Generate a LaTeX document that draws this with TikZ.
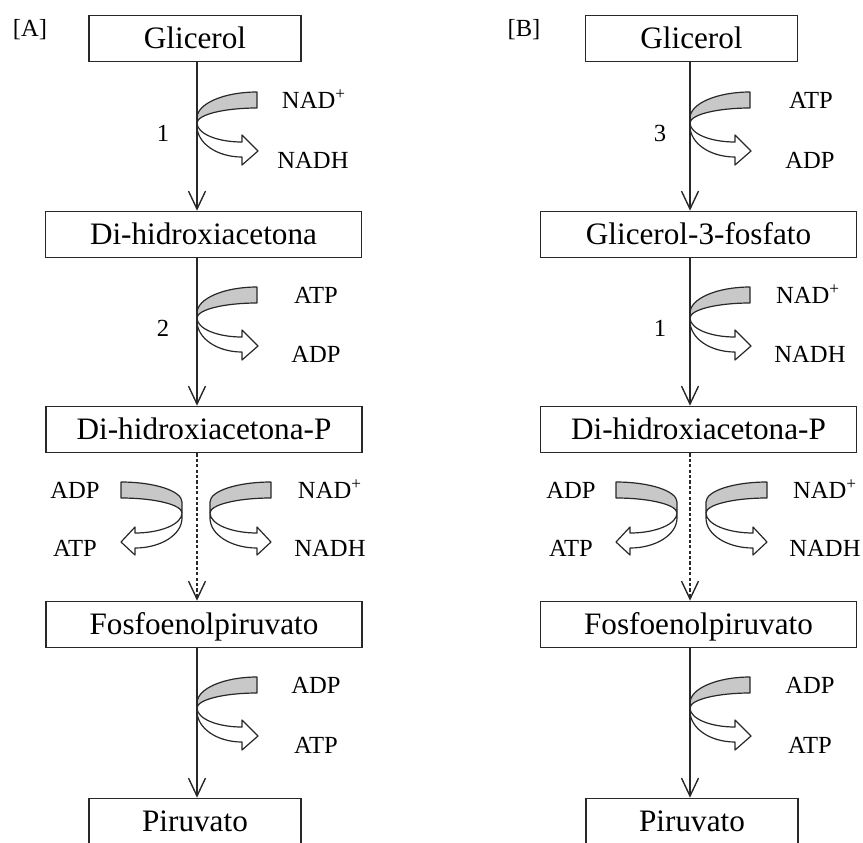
\documentclass[tikz,border=0pt]{standalone}
\usepackage{fontspec}
\setmainfont{Liberation Serif}
\usetikzlibrary{arrows.meta}
\definecolor{ink}{RGB}{40,40,40}
\definecolor{band}{RGB}{200,200,200}

\begin{document}
\begin{tikzpicture}[x=0.5pt,y=-0.5pt,
  stepbox/.style={draw=ink, line width=0.8pt, fill=white, inner sep=0pt,
    font=\fontsize{15.6}{18}\selectfont, text height=10.3pt, text depth=0pt,
    minimum height=23pt},
  smallbox/.style={stepbox, minimum width=106pt},
  widebox/.style={stepbox, minimum width=158pt},
  lbl/.style={inner sep=0pt, font=\fontsize{12.3}{14}\selectfont,
    text height=8.1pt, text depth=0pt},
  conn/.style={draw=ink, line width=0.7pt, -{Straight Barb[length=9pt,width=8.5pt]}},
  dconn/.style={conn, dash pattern=on 1.6pt off 1.1pt},
  grayband/.style={draw=ink, line width=0.6pt, fill=band, line join=round},
  whitearrow/.style={draw=ink, line width=0.6pt, fill=white, line join=round},
  % cofactor pair sitting on a reaction line (origin = top of the meeting point)
  pics/cofon/.style={code={
    \path[grayband] (0,0) .. controls (0,-14.4) and (26.9,-26) .. (60,-26)
      -- (60,-10) .. controls (26.9,-10) and (0,-3.3) .. (0,5) -- cycle;
    \path[whitearrow] (0,5) .. controls (0,15.5) and (19.8,24) .. (45,24)
      -- (45,17) -- (61,33) -- (45,47) -- (45,39)
      .. controls (19.8,39) and (0,25.1) .. (0,8) -- cycle;
  }},
  % cofactor pair standing beside a reaction line
  pics/cofside/.style={code={
    \path[grayband] (0,0) .. controls (0,-11) and (27.3,-20) .. (61,-20)
      -- (61,-4) .. controls (27.3,-4) and (0,2.7) .. (0,11) -- cycle;
    \path[whitearrow] (0,11) .. controls (0,22) and (21,31) .. (47,31)
      -- (47,25) -- (61,40) -- (47,53) -- (47,46)
      .. controls (21,46) and (0,32.6) .. (0,16) -- cycle;
  }}
]
\useasboundingbox (0,0) rectangle (863,842);

% column axes
\coordinate (xA) at (197,0);
\coordinate (xB) at (690,0);

% pathway A
\node[lbl] (tagA) at (30,28) {[A]};
\node[smallbox] (gliA)  at (195,38.5)  {Glicerol};
\node[widebox]  (dhaA)  at (203.5,234.5) {Di-hidroxiacetona};
\node[widebox]  (dhapA) at (204,429.5) {Di-hidroxiacetona-P};
\node[widebox]  (pepA)  at (204,624.5) {Fosfoenolpiruvato};
\node[smallbox] (pirA)  at (195,821.5) {Piruvato};

\pic at (197,118) {cofon};
\pic at (197,313) {cofon};
\pic[xscale=-1] at (182,502) {cofside};
\pic at (210,502) {cofside};
\pic at (197,703) {cofon};

\node[lbl] (e1A) at (163,133) {1};
\node[lbl] (a1A) at (314,100) {NAD\textsuperscript{+}};
\node[lbl] (b1A) at (313,160) {NADH};
\node[lbl] (e2A) at (163,328) {2};
\node[lbl] (a2A) at (316,295) {ATP};
\node[lbl] (b2A) at (316,354) {ADP};
\node[lbl] (a3A) at (75,490) {ADP};
\node[lbl] (b3A) at (75,548) {ATP};
\node[lbl] (c3A) at (330,490) {NAD\textsuperscript{+}};
\node[lbl] (d3A) at (330,548) {NADH};
\node[lbl] (a4A) at (316,685) {ADP};
\node[lbl] (b4A) at (316,745) {ATP};

\draw[conn]  (gliA.south -| xA)  -- (dhaA.north -| xA);
\draw[conn]  (dhaA.south -| xA)  -- (dhapA.north -| xA);
\draw[dconn] (dhapA.south -| xA) -- (pepA.north -| xA);
\draw[conn]  (pepA.south -| xA)  -- (pirA.north -| xA);

% pathway B
\node[lbl] (tagB) at (524,28) {[B]};
\node[smallbox] (gliB)  at (691.5,38.5)  {Glicerol};
\node[widebox]  (g3pB)  at (698.5,234.5) {Glicerol-3-fosfato};
\node[widebox]  (dhapB) at (698.5,429.5) {Di-hidroxiacetona-P};
\node[widebox]  (pepB)  at (698.5,624.5) {Fosfoenolpiruvato};
\node[smallbox] (pirB)  at (692,821.5) {Piruvato};

\pic at (690,118) {cofon};
\pic at (690,313) {cofon};
\pic[xscale=-1] at (677,502) {cofside};
\pic at (706,502) {cofside};
\pic at (690,703) {cofon};

\node[lbl] (e1B) at (660,133) {3};
\node[lbl] (a1B) at (811,100) {ATP};
\node[lbl] (b1B) at (810,160) {ADP};
\node[lbl] (e2B) at (660,328) {1};
\node[lbl] (a2B) at (808,295) {NAD\textsuperscript{+}};
\node[lbl] (b2B) at (810,354) {NADH};
\node[lbl] (a3B) at (571,490) {ADP};
\node[lbl] (b3B) at (571,548) {ATP};
\node[lbl] (c3B) at (825,490) {NAD\textsuperscript{+}};
\node[lbl] (d3B) at (825,548) {NADH};
\node[lbl] (a4B) at (810,685) {ADP};
\node[lbl] (b4B) at (810,745) {ATP};

\draw[conn]  (gliB.south -| xB)  -- (g3pB.north -| xB);
\draw[conn]  (g3pB.south -| xB)  -- (dhapB.north -| xB);
\draw[dconn] (dhapB.south -| xB) -- (pepB.north -| xB);
\draw[conn]  (pepB.south -| xB)  -- (pirB.north -| xB);
\end{tikzpicture}
\end{document}
